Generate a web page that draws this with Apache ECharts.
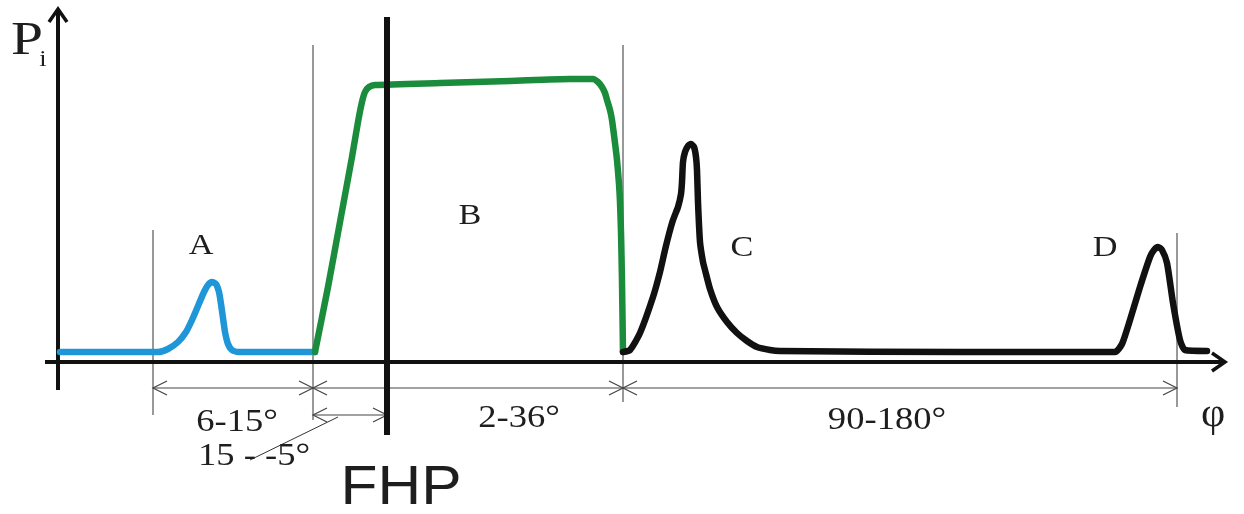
<!DOCTYPE html>
<html><head><meta charset="utf-8">
<script src="https://cdn.jsdelivr.net/npm/echarts/dist/echarts.min.js"></script>
<style>html,body{margin:0;padding:0;background:#fff}#c{width:1244px;height:514px}</style>
</head><body><div id="c"></div>
<script>
// Curve A (blue), plateau B (green), C + D (black): [phi-position, Pi]
const blueCurve = [[0,10],[98,10],[108,13],[118,20],[126,30],[132,42],[138,56],[144,70],[148,77],[152,80],[156,78],[159,70],[161,58],[163,44],[165,30],[168,18],[172,12],[178,10],[255,10]];
const greenCurve = [[255,10],[268,75],[280,140],[292,205],[298,240],[302,260],[305,270],[309,275],[315,277],[380,279],[450,281],[510,283],[533,283],[538,280],[542,275],[545,269],[547,262],[550,252],[552,242],[555,219],[557,202],[559,178],[560,160],[561,130],[562,80],[563,10]];
const blackCurve = [[563,10],[570,12],[580,29],[593,65],[600,90],[605,112],[609,128],[613,142],[618,155],[621,168],[622,180],[623,200],[625,210],[628,216],[631,218],[634,215],[636,205],[637,192],[638,160],[640,120],[643,100],[645,92],[650,73],[657,55],[667,40],[677,29],[687,21],[697,15],[710,12],[720,11],[900,10],[1055,10],[1062,18],[1070,42],[1080,75],[1090,105],[1094,112],[1098,115],[1102,112],[1107,99],[1113,59],[1120,22],[1125,12],[1147,11]];

// Axes, boundaries and dimension lines: [x1, y1, x2, y2]
const axisLines = [[-2,-28,-2,353],[-15,0,1165,0]];
const guideLines = [[93,-53,93,132],[253,-58,253,317],[563,-40,563,317],[1117,-45,1117,129],[278,-55,190,-98]];
const fhpLine = [[327,-73,327,345]];
const dimensionLines = [[93,-26,253,-26],[253,-26,563,-26],[563,-26,1117,-26],[253,-53,327,-53]];

const regionLabels = ['A','B','C','D'];
const rangeLabels = ['6-15°','15 - -5°','2-36°','90-180°'];
const fhpLabel = 'FHP';
const yAxisName = 'P';
const yAxisSub = 'i';
const xAxisName = 'φ';

function segSeries(data, o) {
  return {
    type: 'custom', data: data, z: o.z || 2, silent: true, clip: false,
    renderItem: function (params, api) {
      const a = api.coord([api.value(0), api.value(1)]);
      const b = api.coord([api.value(2), api.value(3)]);
      const children = [{type: 'line', shape: {x1: a[0], y1: a[1], x2: b[0], y2: b[1]},
        style: {stroke: o.color, lineWidth: o.width, lineCap: 'butt'}}];
      const dx = b[0] - a[0], dy = b[1] - a[1], len = Math.hypot(dx, dy);
      const ux = dx / len, uy = dy / len, nx = -uy, ny = ux;
      const head = function (p, sx, sy) {
        return {type: 'polyline', shape: {points: [
          [p[0] - sx * o.L + nx * o.W, p[1] - sy * o.L + ny * o.W],
          [p[0], p[1]],
          [p[0] - sx * o.L - nx * o.W, p[1] - sy * o.L - ny * o.W]]},
          style: {stroke: o.color, lineWidth: o.headWidth || o.width, fill: null, lineJoin: 'miter'}};
      };
      if (o.end) children.push(head(b, ux, uy));
      if (o.start) children.push(head(a, -ux, -uy));
      return {type: 'group', children: children};
    }
  };
}

function curve(data, color) {
  return {type: 'line', data: data, symbol: 'none', showSymbol: false, smooth: 0.2, z: 5,
    lineStyle: {color: color, width: 6.5, cap: 'round', join: 'round'}, silent: true};
}

const serif = '"Liberation Serif", "DejaVu Serif", serif';
const txt = (t, x, y, size, fam, sx) => ({type: 'text', x: x, y: y, z: 10, scaleX: sx || 1.18,
  style: {text: t, font: size + 'px ' + (fam || serif), fill: '#1e1e1e', align: 'center', verticalAlign: 'middle'}});

const chart = echarts.init(document.getElementById('c'), null, {renderer: 'canvas'});
chart.setOption({
  animation: false,
  backgroundColor: '#fff',
  grid: {left: 0, right: 0, top: 0, bottom: 0},
  xAxis: {type: 'value', min: -60, max: 1184, show: false},
  yAxis: {type: 'value', min: -152, max: 362, show: false},
  series: [
    segSeries(guideLines, {color: '#333', width: 1, z: 1}),
    segSeries(dimensionLines, {color: '#444', width: 1.2, start: true, end: true, L: 14, W: 7}),
    segSeries(axisLines, {color: '#111', width: 4, end: true, L: 13, W: 9, headWidth: 3.5, z: 3}),
    segSeries(fhpLine, {color: '#111', width: 6, z: 6}),
    curve(blueCurve, '#1e96d8'),
    curve(greenCurve, '#1a8c3c'),
    curve(blackCurve, '#111')
  ],
  graphic: [
    txt(yAxisName, 27, 42, 46, null, 1.25),
    txt(yAxisSub, 43, 60, 24, null, 1.1),
    txt(xAxisName, 1213, 415, 40, null, 1.05),
    txt(regionLabels[0], 201, 246, 29),
    txt(regionLabels[1], 470, 216, 29),
    txt(regionLabels[2], 742, 248, 29),
    txt(regionLabels[3], 1105, 248, 29),
    txt(rangeLabels[0], 237, 423, 31),
    txt(rangeLabels[1], 254, 457, 31),
    txt(rangeLabels[2], 519, 419, 31),
    txt(rangeLabels[3], 887, 421, 31),
    txt(fhpLabel, 401, 489, 56, '"Liberation Sans", Arial, sans-serif', 1.08)
  ]
});
</script></body></html>
